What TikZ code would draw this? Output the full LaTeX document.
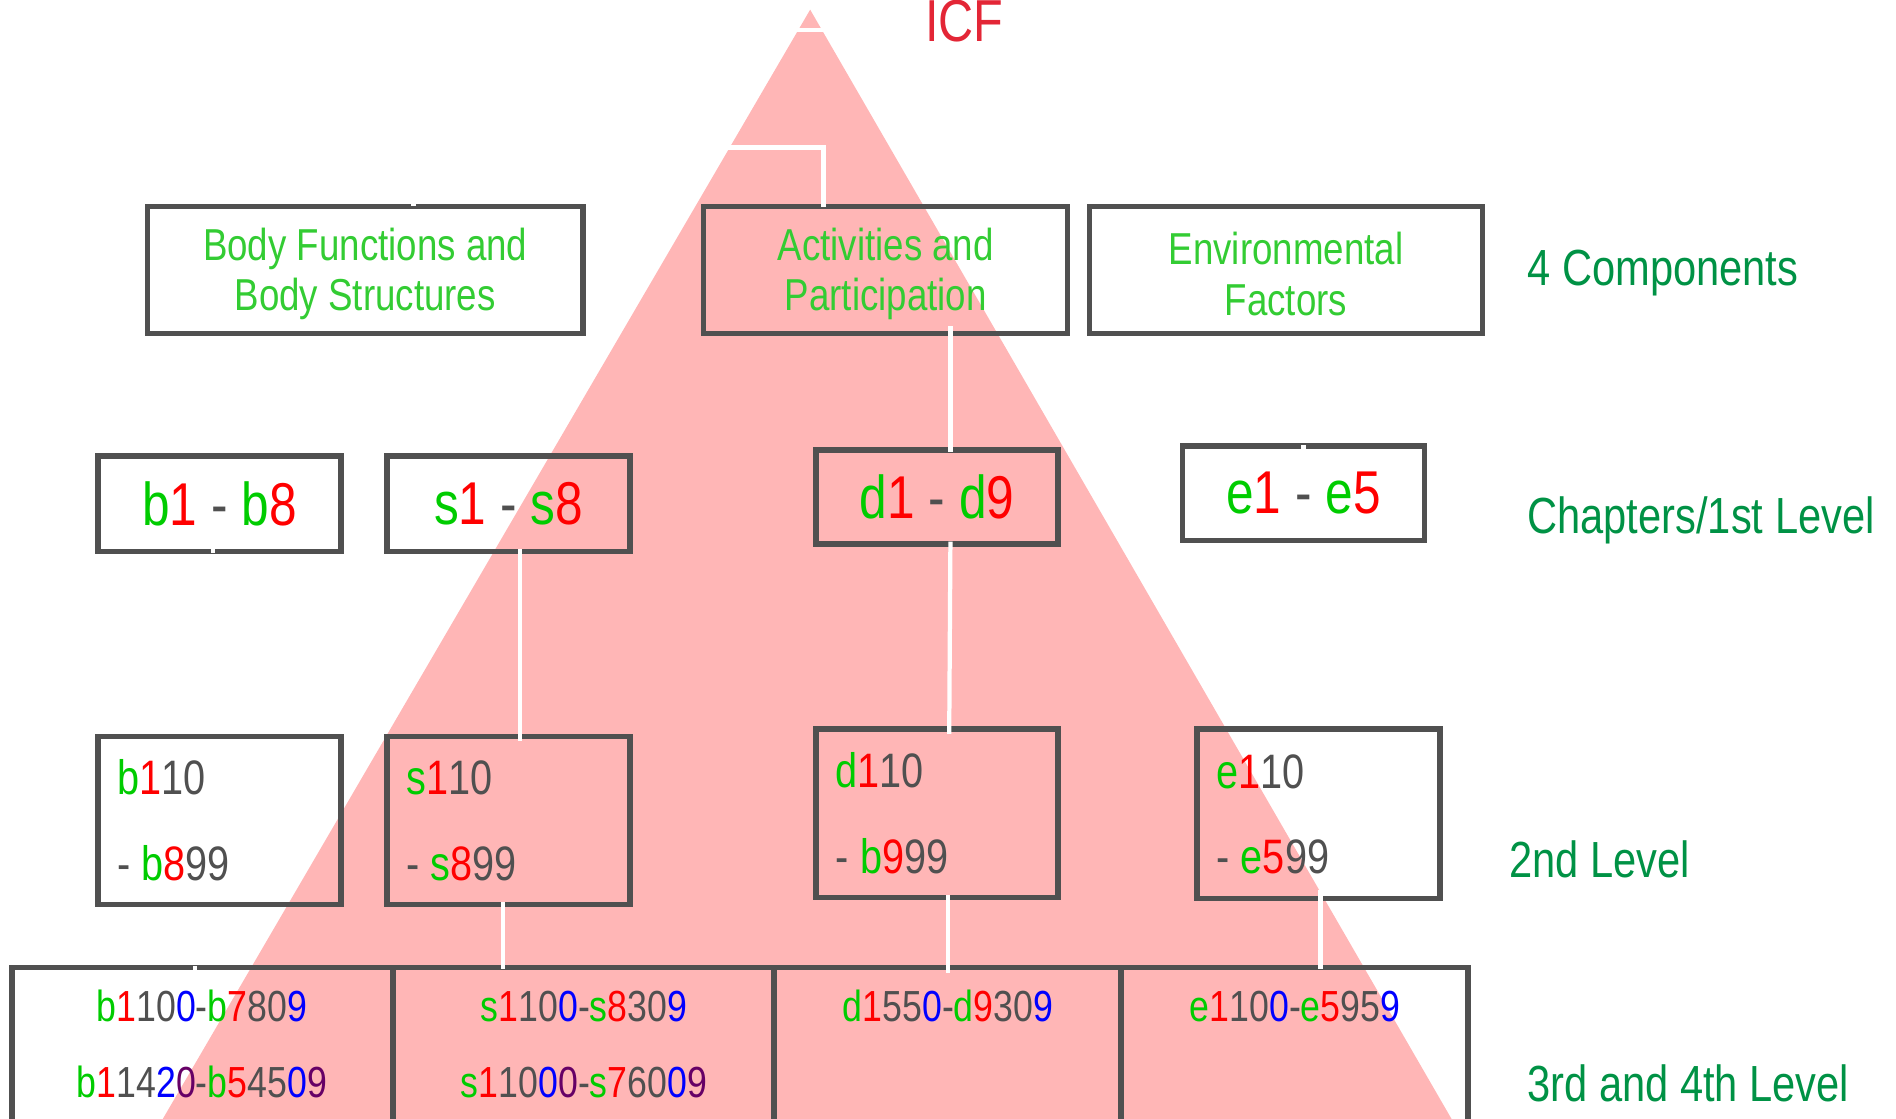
\documentclass[tikz,border=0pt]{standalone}
\usepackage{fontspec}
\setmainfont{Liberation Sans}[FakeStretch=0.82]
\definecolor{tri}{RGB}{255,182,182}
\definecolor{bord}{RGB}{80,80,80}
\definecolor{tgreen}{RGB}{51,204,51}
\definecolor{lgreen}{RGB}{0,146,69}
\definecolor{cg}{RGB}{0,204,0}
\definecolor{cr}{RGB}{255,0,0}
\definecolor{cb}{RGB}{0,0,255}
\definecolor{cp}{RGB}{102,0,102}
\definecolor{icfred}{RGB}{227,38,54}
\newcommand{\cG}[1]{\textcolor{cg}{#1}}
\newcommand{\cR}[1]{\textcolor{cr}{#1}}
\newcommand{\cB}[1]{\textcolor{cb}{#1}}
\newcommand{\cP}[1]{\textcolor{cp}{#1}}
\newcommand{\ttl}[1]{\raisebox{-3pt}[\height][\depth]{\parbox{300pt}{\centering #1}}}
\begin{document}
\begin{tikzpicture}[x=1pt,y=-1pt,
  box/.style={draw=bord,line width=4.5pt,inner sep=0pt,outer sep=0pt,text=bord},
  title/.style={box,text=tgreen,align=center,font=\fontsize{37}{42}\selectfont},
  chap/.style={box,font=\fontsize{50}{56}\selectfont},
  lvl/.style={text=lgreen,anchor=base west,inner sep=0pt,font=\fontsize{42}{48}\selectfont},
  codeii/.style={text=bord,anchor=base west,inner sep=0pt,font=\fontsize{40}{46}\selectfont},
  codeiii/.style={text=bord,anchor=base,inner sep=0pt,font=\fontsize{36}{42}\selectfont},
  conn/.style={white,line width=3.5pt}]
\useasboundingbox (0,0) rectangle (1568,925);
\begin{scope}
\clip (0,0) rectangle (1568,925);
% pyramid
\fill[tri] (670,8) -- (1206,935) -- (129,935) -- cycle;
% title
\node[text=icfred,anchor=base,inner sep=0pt,font=\fontsize{49}{56}\selectfont] (icf) at (797.5,34) {ICF};
% components
\node[title,minimum width=360,minimum height=105] (bf) at (302,223.5) {\ttl{Body Functions and\\Body Structures}};
\node[title,minimum width=301,minimum height=105] (ap) at (732.5,223.5) {\ttl{Activities and\\Participation}};
\node[title,minimum width=325,minimum height=105] (ef) at (1063.5,223.5) {\ttl{Environmental\\Factors}};
% chapters
\node[chap,minimum width=201,minimum height=79] (b1) at (181.5,416.5) {\cG{b}\cR{1} - \cG{b}\cR{8}};
\node[chap,minimum width=201,minimum height=79] (s1) at (420.5,416.5) {\cG{s}\cR{1} - \cG{s}\cR{8}};
\node[chap,minimum width=200,minimum height=78] (d1) at (775,411) {\cG{d}\cR{1} - \cG{d}\cR{9}};
\node[chap,minimum width=200,minimum height=78] (e1) at (1078,408) {\cG{e}\cR{1} - \cG{e}\cR{5}};
% second level
\node[box,minimum width=201,minimum height=139] (b2) at (181.5,678.5) {};
\node[box,minimum width=201,minimum height=139] (s2) at (420.5,678.5) {};
\node[box,minimum width=200,minimum height=139] (d2) at (775,672.5) {};
\node[box,minimum width=201,minimum height=140] (e2) at (1090.5,673) {};
\node[codeii] (b2a) at (97,657) {\cG{b}\cR{1}10};
\node[codeii] (b2b) at (97,728) {- \cG{b}\cR{8}99};
\node[codeii] (s2a) at (336,657) {\cG{s}\cR{1}10};
\node[codeii] (s2b) at (336,728) {- \cG{s}\cR{8}99};
\node[codeii] (d2a) at (691,651) {\cG{d}\cR{1}10};
\node[codeii] (d2b) at (691,722) {- \cG{b}\cR{9}99};
\node[codeii] (e2a) at (1006,652) {\cG{e}\cR{1}10};
\node[codeii] (e2b) at (1006,722) {- \cG{e}\cR{5}99};
% third and fourth level
\node[box,minimum width=315,minimum height=140] (b3) at (167.5,870) {};
\node[box,minimum width=315,minimum height=140] (s3) at (482.5,870) {};
\node[box,minimum width=287,minimum height=140] (d3) at (783.5,870) {};
\node[box,minimum width=287,minimum height=140] (e3) at (1070.5,870) {};
\node[codeiii] (b3a) at (167,845) {\cG{b}\cR{1}10\cB{0}-\cG{b}\cR{7}80\cB{9}};
\node[codeiii] (b3b) at (167,908) {\cG{b}\cR{1}14\cB{2}\cP{0}-\cG{b}\cR{5}45\cB{0}\cP{9}};
\node[codeiii] (s3a) at (483,845) {\cG{s}\cR{1}10\cB{0}-\cG{s}\cR{8}30\cB{9}};
\node[codeiii] (s3b) at (483,908) {\cG{s}\cR{1}10\cB{0}\cP{0}-\cG{s}\cR{7}60\cB{0}\cP{9}};
\node[codeiii] (d3a) at (784,845) {\cG{d}\cR{1}55\cB{0}-\cG{d}\cR{9}30\cB{9}};
\node[codeiii] (e3a) at (1071,845) {\cG{e}\cR{1}10\cB{0}-\cG{e}\cR{5}95\cB{9}};
% level labels
\node[lvl] (l1) at (1263,236) {4 Components};
\node[lvl] (l2) at (1263,441) {Chapters/1st Level};
\node[lvl] (l3) at (1248,726) {2nd Level};
\node[lvl] (l4) at (1263,911) {3rd and 4th Level};
% connectors (white)
\coordinate (apexL) at (640,25);
\coordinate (apexR) at (700,25);
\draw[conn] (apexL) -- (apexR);
\coordinate (split) at (601,122);
\draw[conn] (split) -- (681,122) -- (ap.north -| 681,0);
\coordinate (bftop) at (342,160);
\draw[conn] (bftop) -- ([yshift=1]bf.north -| 342,0);
\draw[conn] ([yshift=6]ap.south -| 786,0) -- ([yshift=-2]d1.north -| 786,0);
\draw[conn] ([yshift=-1]b1.south -| 176,0) -- ([yshift=2]b1.south -| 176,0);
\draw[conn] ([yshift=2]s1.south -| 430,0) -- ([yshift=-4]s2.north -| 430,0);
\draw[conn] ([yshift=2]d1.south -| 786,0) -- ([yshift=-4]d2.north -| 785,0);
\draw[conn] ([yshift=-3]e1.north -| 1078,0) -- ([yshift=1]e1.north -| 1078,0);
\draw[conn] ([yshift=2]s2.south -| 416,0) -- ([yshift=-1]s3.north -| 416,0);
\draw[conn] ([yshift=2]d2.south -| 784,0) -- ([yshift=-5]d3.north -| 784,0);
\draw[conn] ([yshift=7]e2.south -| 1092,0) -- ([yshift=-1]e3.north -| 1092,0);
\draw[conn] ([yshift=-3]b3.north -| 161,0) -- ([yshift=1]b3.north -| 161,0);
\end{scope}
\end{tikzpicture}
\end{document}
